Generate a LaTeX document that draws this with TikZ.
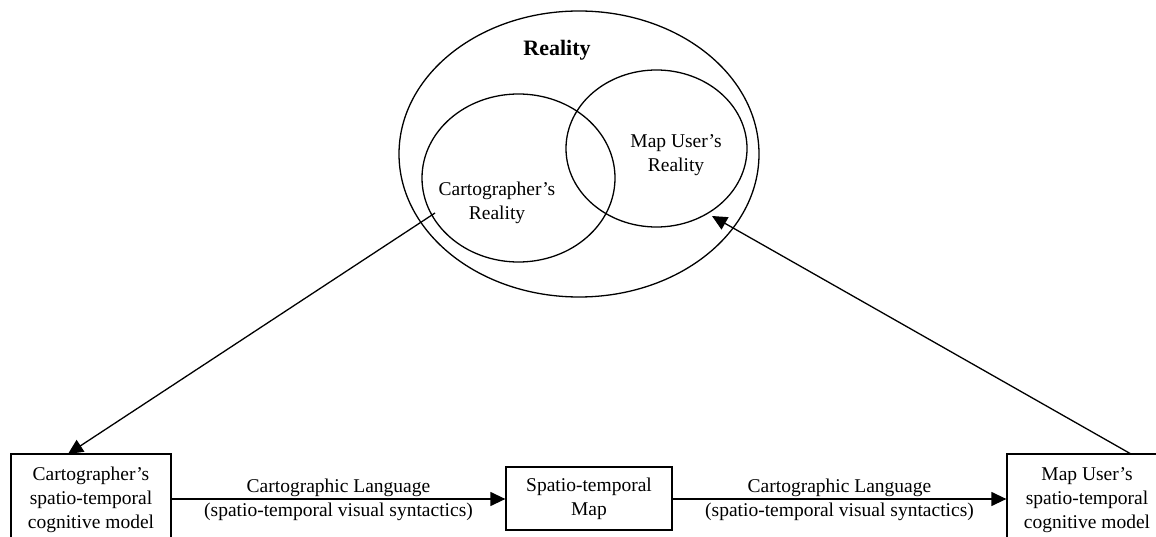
\documentclass[tikz,border=0pt]{standalone}
\usepackage{fontspec}
\setmainfont{Liberation Serif}
\usetikzlibrary{shapes.geometric,arrows.meta}
\begin{document}
\begin{tikzpicture}[x=1pt,y=-1pt,
  every node/.style={font=\fontsize{19.5}{24}\selectfont},
  oval/.style={ellipse,draw,line width=1.3pt,inner sep=0pt},
  box/.style={rectangle,draw,line width=1.3pt,align=center,inner sep=0pt},
  label/.style={align=center,inner sep=0pt},
  arr/.style={line width=1.3pt,-{Triangle[length=15pt,width=14pt]}}]
\useasboundingbox (0,0) rectangle (1156,537);
\clip (0,0) rectangle (1156,537);
% ellipses
\node[oval,minimum width=360pt,minimum height=286pt] (R) at (579,154) {};
\node[oval,minimum width=193pt,minimum height=168pt] (C) at (518.5,178) {};
\node[oval,minimum width=181pt,minimum height=157pt] (U) at (656.5,148.5) {};
\node[label,font=\fontsize{22}{26}\selectfont\bfseries] (Rt) at (557,50) {Reality};
\node[label] (Ct) at (497,203) {Cartographer's\\Reality};
\node[label] (Ut) at (676,155) {Map User's\\Reality};
% boxes
\node[box,minimum width=160pt,minimum height=92pt] (L) at (91,500) {Cartographer's\\spatio-temporal\\cognitive model};
\node[box,minimum width=166pt,minimum height=63pt] (M) at (589,498.5) {Spatio-temporal\\Map};
\node[box,minimum width=160pt,minimum height=92pt] (Rb) at (1087,500) {Map User's\\spatio-temporal\\cognitive model};
% horizontal arrows
\draw[arr] (L.east |- 0,499) -- (M.west |- 0,499)
  node[label,midway,above=2pt] (la1) {Cartographic Language}
  node[label,midway,below=3pt] (lb1) {(spatio-temporal visual syntactics)};
\draw[arr] (M.east |- 0,499) -- (Rb.west |- 0,499)
  node[label,midway,above=2pt] (la2) {Cartographic Language}
  node[label,midway,below=3pt] (lb2) {(spatio-temporal visual syntactics)};
% diagonal arrows
\coordinate (cs) at (435,213);
\coordinate (lt) at (68,454);
\coordinate (rs) at (1131,454);
\coordinate (ut) at (712,216);
\draw[arr] (cs) -- (lt);
\draw[arr] (rs) -- (ut);
\end{tikzpicture}
\end{document}
